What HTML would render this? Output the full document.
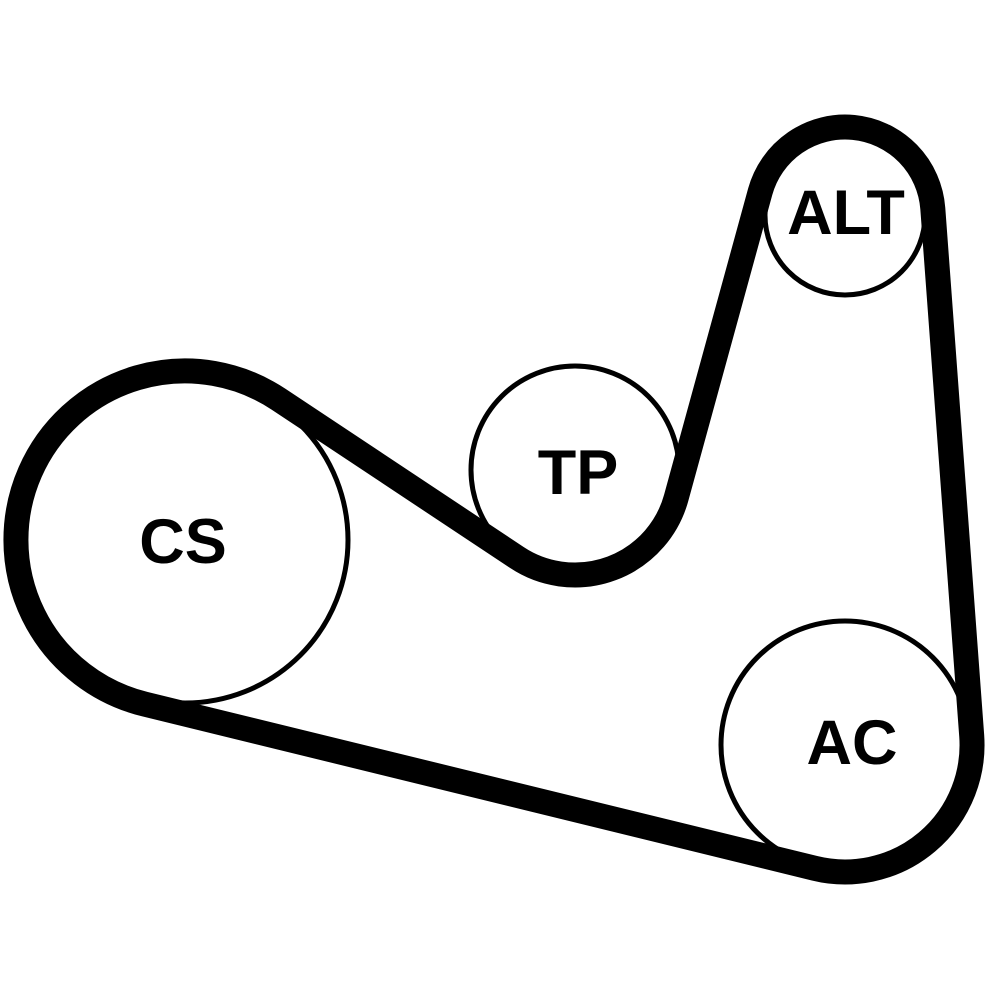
<!DOCTYPE html>
<html><head><style>html,body{margin:0;padding:0;background:#fff}svg{display:block}</style></head>
<body>
<svg width="1000" height="1000" viewBox="0 0 1000 1000" xmlns="http://www.w3.org/2000/svg">
<g fill="none" stroke="#000" stroke-width="5">
<circle cx="185" cy="540" r="163"/>
<circle cx="575" cy="470" r="104"/>
<circle cx="845" cy="215" r="80"/>
<circle cx="845" cy="745" r="124"/>
</g>
<path d="M 278.5 399.2 L 516.9 557.5 A 105 105 0 0 0 676.2 497.8 L 760.2 191.7 A 88 88 0 0 1 932.8 208.5 L 971.7 735.7 A 127 127 0 0 1 814.8 868.3 L 144.8 704.1 A 169 169 0 1 1 278.5 399.2 Z" fill="none" stroke="#000" stroke-width="25" stroke-linejoin="round"/>
<g font-family="Liberation Sans, sans-serif" font-weight="bold" font-size="63" text-anchor="middle">
<text x="183" y="563">CS</text>
<text x="578" y="494">TP</text>
<text x="846" y="234">ALT</text>
<text x="852" y="764">AC</text>
</g>
</svg>
</body></html>
